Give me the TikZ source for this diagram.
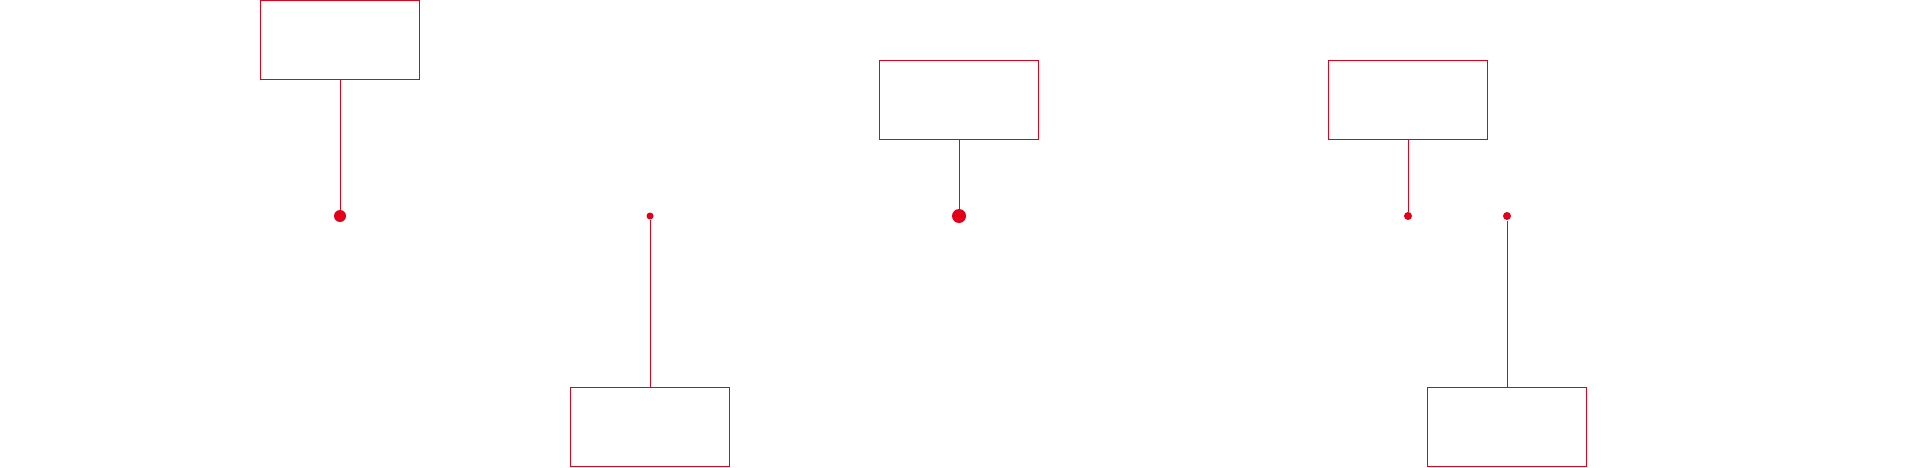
\documentclass[tikz,border=0pt]{standalone}
\usetikzlibrary{positioning}
\definecolor{markred}{RGB}{227,0,27}

\begin{document}
\begin{tikzpicture}[x=1pt, y=-1pt, line width=1pt,
  labelbox/.style={draw=markred, minimum width=159pt, minimum height=79pt, inner sep=0pt},
  pin/.style={circle, fill=markred, inner sep=0pt, minimum size=#1}]
\useasboundingbox (0,0) rectangle (1920,468);

% markers on the axis
\node[pin=12pt] (p1) at (340,216) {};
\node[pin=7pt] (p2) at (650,216) {};
\node[pin=14pt] (p3) at (959,216) {};
\node[pin=8pt] (p4) at (1408,216) {};
\node[pin=8pt] (p5) at (1507,216) {};

% label boxes
\node[labelbox] (b1) at (340,40.5) {};
\node[labelbox] (b2) at (650,426.5) {};
\node[labelbox] (b3) at (959,100.5) {};
\node[labelbox] (b4) at (1408,100.5) {};
\node[labelbox] (b5) at (1507,426.5) {};

\draw[markred] (b1) -- (p1);
\draw[markred] (b2) -- (p2);
\draw[markred] (b3) -- (p3);
\draw[markred] (b4) -- (p4);
\draw[markred] (b5) -- (p5);
\end{tikzpicture}
\end{document}
